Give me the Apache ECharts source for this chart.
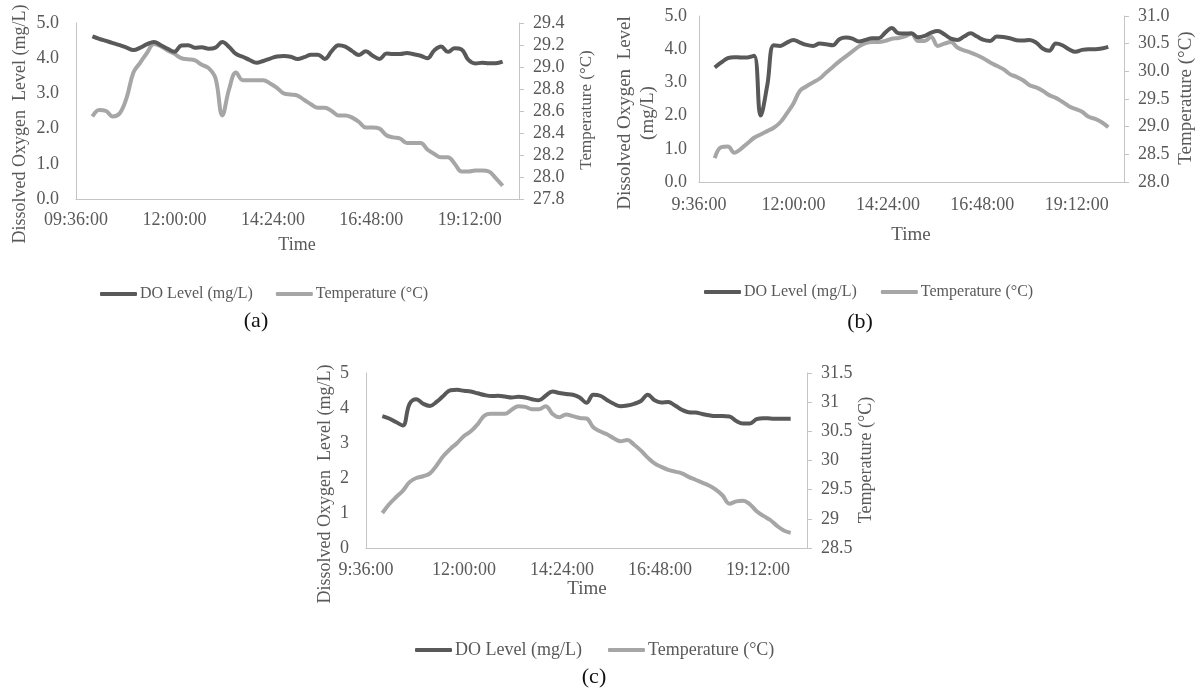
<!DOCTYPE html>
<html>
<head>
<meta charset="utf-8">
<script src="https://cdn.jsdelivr.net/npm/echarts@6/dist/echarts.min.js"></script>
<style>
html,body{margin:0;padding:0;background:#fff;}
#chart{width:1200px;height:688px;}
</style>
</head>
<body>
<div id="chart"></div>
<script>
// ---- DATA ----
const timeLabels = ["10:00","10:10","10:20","10:30","10:40","10:50","11:00","11:10","11:20","11:30",
"11:40","11:50","12:00","12:10","12:20","12:30","12:40","12:50","13:00","13:10",
"13:20","13:30","13:40","13:50","14:00","14:10","14:20","14:30","14:40","14:50",
"15:00","15:10","15:20","15:30","15:40","15:50","16:00","16:10","16:20","16:30",
"16:40","16:50","17:00","17:10","17:20","17:30","17:40","17:50","18:00","18:10",
"18:20","18:30","18:40","18:50","19:00","19:10","19:20","19:30","19:40","19:50","20:00"];

const seriesNames = ["DO Level (mg/L)", "Temperature (°C)"];
const panelCaptions = ["(a)", "(b)", "(c)"];
const xAxisName = "Time";
const leftAxisNames = ["Dissolved Oxygen  Level (mg/L)", "Dissolved Oxygen  Level\n(mg/L)", "Dissolved Oxygen  Level (mg/L)"];
const rightAxisName = "Temperature (°C)";

const doA = [4.62,4.55,4.49,4.43,4.37,4.30,4.23,4.30,4.40,4.46,
4.37,4.27,4.18,4.36,4.37,4.30,4.31,4.27,4.30,4.46,
4.32,4.12,4.04,3.95,3.87,3.92,3.99,4.05,4.06,4.04,
3.98,4.03,4.10,4.10,3.98,4.20,4.37,4.33,4.20,4.09,
4.20,4.07,3.98,4.13,4.12,4.12,4.15,4.11,4.07,4.00,
4.22,4.33,4.18,4.28,4.25,3.95,3.85,3.87,3.86,3.86,3.90];
const tempA = [28.55,28.61,28.60,28.55,28.58,28.72,28.95,29.04,29.13,29.21,
29.19,29.15,29.12,29.08,29.07,29.06,29.02,28.99,28.90,28.56,
28.80,28.95,28.88,28.88,28.88,28.88,28.85,28.81,28.76,28.75,
28.74,28.70,28.66,28.63,28.63,28.60,28.56,28.56,28.54,28.50,
28.45,28.45,28.44,28.38,28.36,28.35,28.31,28.31,28.31,28.25,
28.21,28.18,28.18,28.12,28.05,28.05,28.06,28.06,28.05,27.99,27.92];

const doB = [3.45,3.60,3.73,3.76,3.75,3.75,3.80,2.00,2.90,4.12,
4.10,4.20,4.28,4.20,4.13,4.10,4.17,4.15,4.12,4.30,
4.35,4.32,4.23,4.28,4.33,4.33,4.50,4.64,4.48,4.47,
4.48,4.36,4.40,4.50,4.55,4.45,4.32,4.28,4.38,4.48,
4.38,4.28,4.25,4.38,4.37,4.33,4.27,4.26,4.28,4.20,
4.02,3.95,4.17,4.12,4.00,3.92,3.98,4.00,4.00,4.02,4.07];
const tempB = [28.43,28.63,28.64,28.53,28.60,28.70,28.80,28.86,28.92,28.98,
29.08,29.24,29.42,29.65,29.73,29.80,29.87,29.98,30.08,30.18,
30.27,30.36,30.45,30.51,30.53,30.53,30.55,30.59,30.60,30.63,
30.68,30.55,30.55,30.62,30.46,30.50,30.53,30.43,30.38,30.34,
30.29,30.23,30.16,30.10,30.04,29.95,29.90,29.84,29.75,29.71,
29.65,29.57,29.52,29.45,29.37,29.32,29.27,29.18,29.14,29.08,28.99];

const doC = [3.77,3.70,3.60,3.50,4.12,4.25,4.12,4.06,4.18,4.35,
4.51,4.52,4.49,4.47,4.42,4.37,4.34,4.35,4.33,4.30,
4.32,4.30,4.25,4.22,4.35,4.47,4.43,4.40,4.38,4.30,
4.15,4.38,4.35,4.23,4.12,4.05,4.07,4.12,4.20,4.38,
4.22,4.16,4.17,4.07,3.95,3.88,3.87,3.83,3.79,3.77,
3.77,3.76,3.63,3.56,3.56,3.68,3.71,3.70,3.69,3.69,3.69];
const tempC = [29.10,29.25,29.37,29.48,29.63,29.70,29.73,29.78,29.92,30.08,
30.20,30.30,30.42,30.50,30.62,30.77,30.80,30.80,30.80,30.87,
30.93,30.92,30.88,30.88,30.93,30.80,30.74,30.79,30.76,30.73,
30.72,30.57,30.50,30.45,30.38,30.33,30.35,30.27,30.17,30.05,
29.95,29.89,29.84,29.81,29.78,29.72,29.67,29.62,29.57,29.50,
29.40,29.26,29.30,29.31,29.25,29.13,29.05,28.98,28.88,28.80,28.76];

// axis ranges (minutes since midnight for x)
const xMin = 576, xMax = 1224, xStep = 144;   // 9:36, 20:24, 2h24m
const leftRanges  = [[0,5,1],[0,5,1],[0,5,1]];
const rightRanges = [[27.8,29.4,0.2],[28,31,0.5],[28.5,31.5,0.5]];

// ---- BUILD ----
const FONT = "'Liberation Serif','Times New Roman',serif";
const DARK = '#595959', LIGHT = '#a6a6a6', AXIS = '#c4c4c4', TXT = '#595959';
const toMin = s => { const p = s.split(':').map(Number); return p[0]*60 + p[1]; };
const xs = timeLabels.map(toMin);
const pair = arr => arr.map((v,i) => [xs[i], v]);
const fmtTime = lead => v => {
  const h = Math.floor(v/60), m = Math.round(v%60);
  return (lead && h < 10 ? '0' : '') + h + ':' + String(m).padStart(2,'0') + ':00';
};

const grids = [
  {left:76, top:23, width:443, height:176},
  {left:699, top:16, width:425, height:166},
  {left:366, top:373, width:441, height:175}
];
const leftMargins = [17, 12, 17];
const xLabelMargins = [12, 14, 13];
const leftFmt = [v => v.toFixed(1), v => v.toFixed(1), v => String(v)];
const rightFmt = [v => v.toFixed(1), v => v.toFixed(1), v => String(+v.toFixed(1))];
const doSets = [doA, doB, doC], tempSets = [tempA, tempB, tempC];

const xAxis = [], yAxis = [], series = [];
grids.forEach((g, i) => {
  xAxis.push({
    type:'value', gridIndex:i, min:xMin, max:xMax, interval:xStep,
    axisLine:{show:true, lineStyle:{color:AXIS, width:1}},
    axisTick:{show:false}, splitLine:{show:false},
    axisLabel:{formatter: fmtTime(i===0), color:TXT, fontFamily:FONT, fontSize:18,
      margin:xLabelMargins[i], showMaxLabel:false, showMinLabel:true}
  });
  const L = leftRanges[i], R = rightRanges[i];
  yAxis.push({
    type:'value', gridIndex:i, position:'left', min:L[0], max:L[1], interval:L[2],
    axisLine:{show:true, lineStyle:{color:AXIS}}, axisTick:{show:false}, splitLine:{show:false},
    axisLabel:{formatter:leftFmt[i], color:TXT, fontFamily:FONT, fontSize:18, margin:leftMargins[i]}
  });
  yAxis.push({
    type:'value', gridIndex:i, position:'right', min:R[0], max:R[1], interval:R[2],
    axisLine:{show:true, lineStyle:{color:AXIS}},
    axisTick:{show:true, inside:false, length:5, lineStyle:{color:AXIS}}, splitLine:{show:false},
    axisLabel:{formatter:rightFmt[i], color:TXT, fontFamily:FONT, fontSize:18, margin:14}
  });
  series.push({
    name:seriesNames[0], type:'line', xAxisIndex:i, yAxisIndex:i*2, data:pair(doSets[i]),
    showSymbol:false, smooth:0.4, lineStyle:{color:DARK, width:4}, itemStyle:{color:DARK},
    z:3, animation:false
  });
  series.push({
    name:seriesNames[1], type:'line', xAxisIndex:i, yAxisIndex:i*2+1, data:pair(tempSets[i]),
    showSymbol:false, smooth:0.4, lineStyle:{color:LIGHT, width:4}, itemStyle:{color:LIGHT},
    z:2, animation:false
  });
});

const legendCfg = [
  {left:100, top:286, fontSize:16, gap:23},
  {left:704, top:284, fontSize:16, gap:24},
  {left:415, top:641, fontSize:18, gap:26}
];
const legend = legendCfg.map(c => ({
  data:seriesNames, left:c.left, top:c.top, padding:0, itemGap:c.gap,
  icon:'roundRect', itemWidth:37, itemHeight:4,
  textStyle:{color:TXT, fontFamily:FONT, fontSize:c.fontSize, padding:[0,0,0,-2]},
  selectedMode:false
}));

function txt(x, y, s, size, opts) {
  opts = opts || {};
  return {type:'text', x:x, y:y, rotation:opts.rot || 0, silent:true,
    style:{text:s, fill:opts.fill || TXT, font: size + 'px ' + FONT,
      textAlign:'center', textVerticalAlign:'middle', lineHeight:opts.lh || size*1.2}};
}
const R90 = Math.PI/2;
const graphic = [
  // x axis names
  txt(297, 245, xAxisName, 18),
  txt(911, 235, xAxisName, 19),
  txt(587, 589, xAxisName, 19),
  // left axis names
  txt(20, 124, leftAxisNames[0], 18, {rot:R90}),
  txt(637, 113, leftAxisNames[1], 19, {rot:R90, lh:23}),
  txt(325, 484, leftAxisNames[2], 18, {rot:R90}),
  // right axis names
  txt(587, 110, rightAxisName, 17, {rot:R90}),
  txt(1186, 98, rightAxisName, 19, {rot:R90}),
  txt(866, 460, rightAxisName, 18, {rot:R90}),
  // captions
  txt(256, 321, panelCaptions[0], 22, {fill:'#111'}),
  txt(860, 322, panelCaptions[1], 22, {fill:'#111'}),
  txt(594, 677, panelCaptions[2], 22, {fill:'#111'})
];

const chart = echarts.init(document.getElementById('chart'), null, {renderer:'canvas'});
chart.setOption({
  backgroundColor:'#fff',
  animation:false,
  textStyle:{fontFamily:FONT},
  grid:grids, xAxis:xAxis, yAxis:yAxis, series:series, legend:legend, graphic:graphic
});
</script>
</body>
</html>
